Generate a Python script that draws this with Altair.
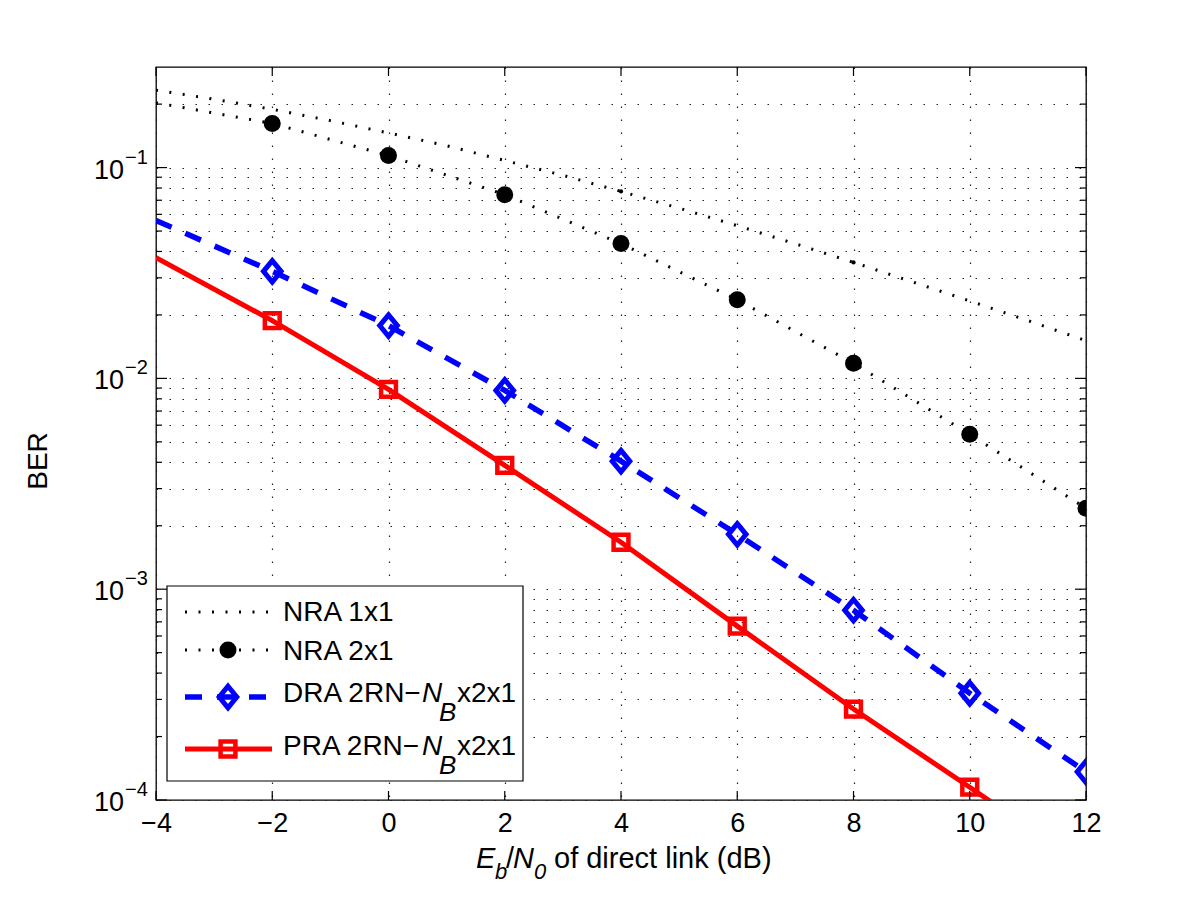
import altair as alt
import pandas as pd

# ---------------- data ----------------
snr_fine = [-4, -3, -2, -1, 0, 1, 2, 3, 4, 5, 6, 7, 8, 9, 10, 11, 12]
nra11_ber = [0.233, 0.211, 0.189, 0.167, 0.146, 0.127, 0.108, 0.0919, 0.0771,
             0.0642, 0.0530, 0.0435, 0.0355, 0.0288, 0.0233, 0.0188, 0.0151]
nra11_dot_snr = [4, 8]
nra11_dot_ber = [0.0771, 0.0355]

snr = [-4, -2, 0, 2, 4, 6, 8, 10, 12]
nra21_ber = [0.203, 0.162, 0.114, 0.0744, 0.0436, 0.0236, 0.0118, 0.00543, 0.00242]
dra_ber = [0.0561, 0.0322, 0.0178, 0.00877, 0.00405, 0.00182, 0.000795, 0.000321, 0.000136]
pra_ber = [0.0374, 0.0188, 0.00887, 0.00387, 0.00167, 0.000668, 0.00027, 0.000115, 0.000048]

x_ticks = [-4, -2, 0, 2, 4, 6, 8, 10, 12]
y_decades = [1e-4, 1e-3, 1e-2, 1e-1]
y_exponents = ["\u22124", "\u22123", "\u22122", "\u22121"]
y_minor = [m * d for d in [1e-4, 1e-3, 1e-2, 1e-1] for m in range(2, 10) if m * d <= 0.3]

FONT = "Liberation Sans"
W, H = 930, 733

xscale = alt.Scale(domain=[-4, 12], nice=False, zero=False)
yscale = alt.Scale(type="log", domain=[1e-4, 0.3], nice=False)
grid_common = dict(grid=True, gridColor="#222222", gridWidth=1.2, gridDash=[1.5, 11.5],
                   gridOpacity=1, ticks=False, domain=False, title=None)
xaxis = alt.Axis(values=x_ticks, labelFontSize=27, labelFont=FONT, labelColor="black",
                 labelPadding=10, labelFlush=False, labelOverlap=False, **grid_common)
yaxis = alt.Axis(values=sorted(y_decades + y_minor), labels=False, **grid_common)


def X():
    return alt.X("snr:Q", scale=xscale, axis=xaxis)


def Y():
    return alt.Y("ber:Q", scale=yscale, axis=yaxis)


def df(xs, ys):
    return pd.DataFrame({"snr": xs, "ber": ys})


one = pd.DataFrame({"k": [0]})

layers = []

# data lines
layers.append(alt.Chart(df(snr_fine, nra11_ber)).mark_line(
    color="black", strokeWidth=3, strokeDash=[2, 11.5], strokeCap="butt", clip=True
).encode(x=X(), y=Y()))
layers.append(alt.Chart(df(nra11_dot_snr, nra11_dot_ber)).mark_point(
    shape="circle", filled=True, color="black", size=18, opacity=1, clip=True
).encode(x=X(), y=Y()))
layers.append(alt.Chart(df(snr, nra21_ber)).mark_line(
    color="black", strokeWidth=3, strokeDash=[2, 11.5], strokeCap="butt", clip=True
).encode(x=X(), y=Y()))
layers.append(alt.Chart(df(snr[1:], nra21_ber[1:])).mark_point(
    shape="circle", filled=True, color="black", size=289, opacity=1, clip=True
).encode(x=X(), y=Y()))

DIAMOND = "M0,-1L0.82,0L0,1L-0.82,0Z"
layers.append(alt.Chart(df(snr, dra_ber)).mark_line(
    color="#0000FF", strokeWidth=5.5, strokeDash=[17, 15], strokeCap="butt", clip=True
).encode(x=X(), y=Y()))
layers.append(alt.Chart(df(snr[1:], dra_ber[1:])).mark_point(
    shape=DIAMOND, filled=False, color="#0000FF", strokeWidth=5, size=460, opacity=1, clip=True
).encode(x=X(), y=Y()))

layers.append(alt.Chart(df(snr, pra_ber)).mark_line(
    color="#FF0000", strokeWidth=5, clip=True
).encode(x=X(), y=Y()))
layers.append(alt.Chart(df(snr[1:], pra_ber[1:])).mark_point(
    shape="square", filled=False, color="#FF0000", strokeWidth=4.5, size=220, opacity=1, clip=True
).encode(x=X(), y=Y()))

# inward ticks (x: top & bottom; y: left & right)
xt = pd.DataFrame({"snr": x_ticks})
layers.append(alt.Chart(xt).mark_rule(color="black", strokeWidth=1.2).encode(
    x=X(), y=alt.value(H), y2=alt.value(H - 9)))
layers.append(alt.Chart(xt).mark_rule(color="black", strokeWidth=1.2).encode(
    x=X(), y=alt.value(0), y2=alt.value(9)))
yt_major = pd.DataFrame({"ber": y_decades})
yt_minor = pd.DataFrame({"ber": y_minor})
for data, length in [(yt_major, 11), (yt_minor, 6)]:
    layers.append(alt.Chart(data).mark_rule(color="black", strokeWidth=1.2).encode(
        y=Y(), x=alt.value(0), x2=alt.value(length)))
    layers.append(alt.Chart(data).mark_rule(color="black", strokeWidth=1.2).encode(
        y=Y(), x=alt.value(W), x2=alt.value(W - length)))

# y tick labels: 10 with superscript exponent
ylab = pd.DataFrame({"ber": y_decades, "exp": y_exponents, "base": ["10"] * 4})
layers.append(alt.Chart(ylab).mark_text(
    align="right", baseline="middle", font=FONT, fontSize=27, dy=3, color="black"
).encode(y=Y(), x=alt.value(-32), text="base:N"))
layers.append(alt.Chart(ylab).mark_text(
    align="left", baseline="middle", font=FONT, fontSize=20, dy=-10, color="black"
).encode(y=Y(), x=alt.value(-31), text="exp:N"))


def txt(s, x, y, size=28, italic=False, align="left", angle=None, baseline="alphabetic"):
    kw = dict(align=align, baseline=baseline, font=FONT, fontSize=size, color="black")
    if italic:
        kw["fontStyle"] = "italic"
    if angle is not None:
        kw["angle"] = angle
    return alt.Chart(one).mark_text(**kw).encode(
        x=alt.value(x), y=alt.value(y), text=alt.value(s))


# axis titles
layers.append(txt("BER", -109, 394, size=28, align="center", angle=270))
layers.append(txt("E", 320, 801, size=29, italic=True))
layers.append(txt("b", 339, 812, size=22, italic=True))
layers.append(txt("/", 350, 801, size=29))
layers.append(txt("N", 357, 801, size=29, italic=True))
layers.append(txt("0", 378, 812, size=22, italic=True))
layers.append(txt("of direct link (dB)", 398, 801, size=29))

# legend
layers.append(alt.Chart(one).mark_rect(fill="white", stroke="black", strokeWidth=1.2).encode(
    x=alt.value(11), x2=alt.value(367), y=alt.value(519), y2=alt.value(714)))


def leg_line(y, color, width, dash=None):
    kw = dict(color=color, strokeWidth=width, strokeCap="butt")
    if dash:
        kw["strokeDash"] = dash
    return alt.Chart(one).mark_rule(**kw).encode(
        x=alt.value(29), x2=alt.value(116), y=alt.value(y))


def leg_point(y, **kw):
    return alt.Chart(one).mark_point(opacity=1, **kw).encode(x=alt.value(72), y=alt.value(y))


layers.append(leg_line(545, "black", 3, [2, 11.5]))
layers.append(leg_line(583, "black", 3, [2, 11.5]))
layers.append(leg_point(583, shape="circle", filled=True, color="black", size=289))
layers.append(leg_line(630, "#0000FF", 5.5, [17, 15]))
layers.append(leg_point(630, shape=DIAMOND, filled=False, color="#0000FF", strokeWidth=5, size=460))
layers.append(leg_line(682, "#FF0000", 5))
layers.append(leg_point(682, shape="square", filled=False, color="#FF0000", strokeWidth=4.5, size=220))

layers.append(txt("NRA 1x1", 127, 554))
layers.append(txt("NRA 2x1", 127, 593))
for base, yb in [("DRA 2RN\u2212", 635), ("PRA 2RN\u2212", 688)]:
    layers.append(txt(base, 127, yb))
    layers.append(txt("N", 266, yb, italic=True))
    layers.append(txt("B", 283, yb + 19, size=26, italic=True))
    layers.append(txt("x2x1", 301, yb))

chart = alt.layer(*layers).properties(
    width=W, height=H,
    padding={"left": 148, "top": 59, "right": 60, "bottom": 95},
    autosize=alt.AutoSizeParams(type="none"),
    background="white",
).configure_view(stroke="black", strokeWidth=1.3)

chart.save("out.html", embed_options={"renderer": "svg", "actions": False})
